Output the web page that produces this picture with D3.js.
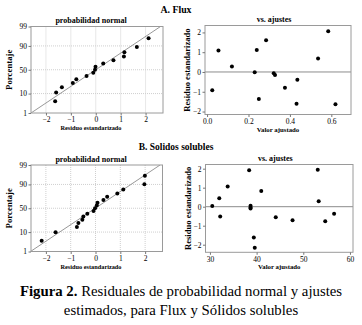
<!DOCTYPE html>
<html>
<head>
<meta charset="utf-8">
<script src="https://cdn.jsdelivr.net/npm/d3@7/dist/d3.min.js"></script>
<style>
  body { margin: 0; background: #fff; }
  svg { display: block; font-family: "Liberation Serif", "Times New Roman", serif; }
  .axis text { font-family: "Liberation Serif", "Times New Roman", serif; font-size: 7.5px; fill: #000; }
  .axis line { stroke: #777; }
  .axis path { display: none; }
</style>
</head>
<body>
<svg id="chart" width="362" height="325"></svg>
<script>
// --- A. Flux: residuo vs valor ajustado
const fluxFitted = [0.025, 0.055, 0.12, 0.23, 0.24, 0.25, 0.285, 0.322, 0.328, 0.376, 0.432, 0.436, 0.536, 0.585, 0.62];
const fluxResid  = [-0.93, 1.08, 0.28, -0.02, 1.11, -1.37, 1.61, -0.06, -0.15, -0.80, -1.61, -0.39, 0.68, 2.06, -1.63];
// --- A. Flux: probabilidad normal (residuo ordenado, porcentaje)
const fluxNormRes = [-1.63, -1.59, -1.36, -0.92, -0.78, -0.37, -0.10, -0.03, -0.01, 0.30, 0.71, 1.13, 1.15, 1.65, 2.12];
const fluxNormPct = [4.5, 11, 17.5, 24, 30.5, 37, 43.5, 50, 56.5, 63, 69.5, 76, 82.5, 89, 95.5];
const fluxLine = [[-2.6, 1], [2.6, 99]];

// --- B. Solidos solubles: residuo vs valor ajustado
const solFitted = [30.5, 32.0, 32.2, 33.8, 38.4, 38.7, 38.7, 38.7, 39.4, 39.6, 41.0, 44.1, 47.7, 53.1, 53.3, 54.7, 56.6];
const solResid  = [0.04, 0.44, -0.52, 1.06, 1.92, 0.05, -0.04, -0.10, -1.62, -2.16, 0.82, -0.56, -0.71, 1.95, 0.28, -0.76, -0.37];
// --- B. Solidos solubles: probabilidad normal
const solNormRes = [-2.17, -1.61, -0.75, -0.69, -0.53, -0.49, -0.33, -0.08, -0.02, 0.05, 0.08, 0.32, 0.47, 0.88, 1.12, 1.97, 1.99];
const solNormPct = [4.0, 9.8, 15.5, 21.3, 27.0, 32.8, 38.5, 44.3, 50, 55.7, 61.5, 67.2, 73.0, 78.7, 84.5, 90.2, 96.0];
const solLine = [[-2.62, 1], [2.6, 99]];

// ticks
const pctTicks = [1, 10, 50, 90, 99];
const resTicks = [-2, -1, 0, 1, 2];
const fluxFitTicks = [0.0, 0.2, 0.4, 0.6];
const solFitTicks = [30, 40, 50, 60];

// inverse normal cdf (Acklam) for the probability axis
function probit(p) {
  const a = [-39.69683028665376, 220.9460984245205, -275.9285104469687, 138.3577518672690, -30.66479806614716, 2.506628277459239];
  const b = [-54.47609879822406, 161.5858368580409, -155.6989798598866, 66.80131188771972, -13.28068155288572];
  const c = [-0.007784894002430293, -0.3223964580411365, -2.400758277161838, -2.549732539343734, 4.374664141464968, 2.938163982698783];
  const d = [0.007784695709041462, 0.3224671290700398, 2.445134137142996, 3.754408661907416];
  const pl = 0.02425;
  let q, r;
  if (p < pl) {
    q = Math.sqrt(-2 * Math.log(p));
    return (((((c[0]*q+c[1])*q+c[2])*q+c[3])*q+c[4])*q+c[5]) / ((((d[0]*q+d[1])*q+d[2])*q+d[3])*q+1);
  }
  if (p > 1 - pl) {
    q = Math.sqrt(-2 * Math.log(1 - p));
    return -(((((c[0]*q+c[1])*q+c[2])*q+c[3])*q+c[4])*q+c[5]) / ((((d[0]*q+d[1])*q+d[2])*q+d[3])*q+1);
  }
  q = p - 0.5; r = q * q;
  return (((((a[0]*r+a[1])*r+a[2])*r+a[3])*r+a[4])*r+a[5])*q / (((((b[0]*r+b[1])*r+b[2])*r+b[3])*r+b[4])*r+1);
}

const svg = d3.select("#chart");

function drawNormal(box, res, pct, line, titleX) {
  const x = d3.scaleLinear().domain([-2.6, 2.7]).range([box.x0, box.x1]);
  const zy = d3.scaleLinear().domain([probit(0.01), probit(0.99)]).range([box.y1, box.y0]);
  const y = p => zy(probit(p / 100));
  const g = svg.append("g");

  // grid
  g.selectAll(".vg").data(resTicks).join("line")
    .attr("x1", d => x(d)).attr("x2", d => x(d))
    .attr("y1", box.y0).attr("y2", box.y1)
    .attr("stroke", "#cfcfcf").attr("stroke-dasharray", "1,1");
  g.selectAll(".hg").data(pctTicks.slice(1, -1)).join("line")
    .attr("x1", box.x0).attr("x2", box.x1)
    .attr("y1", d => y(d)).attr("y2", d => y(d))
    .attr("stroke", "#cfcfcf").attr("stroke-dasharray", "1,1");

  // fitted line, clipped to the box
  const clipId = "clip" + Math.round(box.y0);
  svg.append("clipPath").attr("id", clipId).append("rect")
    .attr("x", box.x0).attr("y", box.y0).attr("width", box.x1 - box.x0).attr("height", box.y1 - box.y0);
  g.append("line")
    .attr("clip-path", `url(#${clipId})`)
    .attr("x1", x(line[0][0])).attr("y1", y(line[0][1]))
    .attr("x2", x(line[1][0])).attr("y2", y(line[1][1]))
    .attr("stroke", "#8c8c8c").attr("stroke-width", 0.9);

  g.append("rect")
    .attr("x", box.x0).attr("y", box.y0).attr("width", box.x1 - box.x0).attr("height", box.y1 - box.y0)
    .attr("fill", "none").attr("stroke", "#9a9a9a");

  g.selectAll("circle").data(res).join("circle")
    .attr("cx", d => x(d)).attr("cy", (d, i) => y(pct[i]))
    .attr("r", 2).attr("fill", "#000");

  g.append("g").attr("class", "axis").attr("transform", `translate(0,${box.y1})`)
    .call(d3.axisBottom(x).tickValues(resTicks).tickFormat(d3.format("d")).tickSize(2.5).tickPadding(1.5));
  g.append("g").attr("class", "axis").attr("transform", `translate(${box.x0},0)`)
    .call(d3.axisLeft(d3.scaleLinear().domain(zy.domain()).range(zy.range()))
      .tickValues(pctTicks.map(p => probit(p / 100)))
      .tickFormat((d, i) => pctTicks[i]).tickSize(2.5).tickPadding(1.5));

  g.append("text").attr("x", titleX).attr("y", box.y0 - 3.5).attr("text-anchor", "middle")
    .attr("font-weight", "bold").attr("font-size", 8).text("probabilidad normal");
  g.append("text").attr("x", titleX).attr("y", box.y1 + 17).attr("text-anchor", "middle")
    .attr("font-weight", "bold").attr("font-size", 6.3).text("Residuo estandarizado");
  g.append("text").attr("transform", `translate(12,${(box.y0 + box.y1) / 2}) rotate(-90)`)
    .attr("text-anchor", "middle").attr("font-weight", "bold").attr("font-size", 8.8).text("Porcentaje");
}

function drawFits(box, fitted, resid, xDom, yDom, xTicks, fmt) {
  const x = d3.scaleLinear().domain(xDom).range([box.x0, box.x1]);
  const y = d3.scaleLinear().domain(yDom).range([box.y1, box.y0]);
  const g = svg.append("g");

  g.append("line").attr("x1", box.x0).attr("x2", box.x1)
    .attr("y1", y(0)).attr("y2", y(0)).attr("stroke", "#8c8c8c");
  g.append("rect")
    .attr("x", box.x0).attr("y", box.y0).attr("width", box.x1 - box.x0).attr("height", box.y1 - box.y0)
    .attr("fill", "none").attr("stroke", "#9a9a9a");

  g.selectAll("circle").data(fitted).join("circle")
    .attr("cx", d => x(d)).attr("cy", (d, i) => y(resid[i]))
    .attr("r", 2).attr("fill", "#000");

  g.append("g").attr("class", "axis").attr("transform", `translate(0,${box.y1})`)
    .call(d3.axisBottom(x).tickValues(xTicks).tickFormat(fmt).tickSize(2.5).tickPadding(1.5));
  g.append("g").attr("class", "axis").attr("transform", `translate(${box.x0},0)`)
    .call(d3.axisLeft(y).tickValues(resTicks).tickFormat(d3.format("d")).tickSize(2.5).tickPadding(1.5));

  g.append("text").attr("x", (box.x0 + box.x1) / 2 - 4).attr("y", box.y0 - 3.5).attr("text-anchor", "middle")
    .attr("font-weight", "bold").attr("font-size", 8).text("vs. ajustes");
  g.append("text").attr("x", (box.x0 + box.x1) / 2).attr("y", box.y1 + 17).attr("text-anchor", "middle")
    .attr("font-weight", "bold").attr("font-size", 6.8).text("Valor ajustado");
  g.append("text").attr("transform", `translate(${box.x0 - 15},${(box.y0 + box.y1) / 2}) rotate(-90)`)
    .attr("text-anchor", "middle").attr("font-weight", "bold").attr("font-size", 8.6).text("Residuo estandarizado");
}

// section titles
svg.append("text").attr("x", 176).attr("y", 13).attr("text-anchor", "middle")
  .attr("font-weight", "bold").attr("font-size", 9.8).text("A. Flux");
svg.append("text").attr("x", 176).attr("y", 150).attr("text-anchor", "middle")
  .attr("font-weight", "bold").attr("font-size", 9.5).text("B. Solidos solubles");

drawNormal({x0: 31, x1: 163, y0: 26.5, y1: 113}, fluxNormRes, fluxNormPct, fluxLine, 91);
drawFits({x0: 205, x1: 351, y0: 25.5, y1: 114.5}, fluxFitted, fluxResid,
  [-0.01, 0.695], [-2.15, 2.35], fluxFitTicks, d3.format(".1f"));

drawNormal({x0: 31, x1: 162.5, y0: 165, y1: 251.5}, solNormRes, solNormPct, solLine, 91);
drawFits({x0: 205.5, x1: 353, y0: 164.5, y1: 252.3}, solFitted, solResid,
  [29.05, 60.65], [-2.4, 2.22], solFitTicks, d3.format("d"));

// caption
const cap = svg.append("text").attr("x", 181).attr("y", 296).attr("text-anchor", "middle").attr("font-size", 14.8);
cap.append("tspan").attr("font-weight", "bold").text("Figura 2.");
cap.append("tspan").text(" Residuales de probabilidad normal y ajustes");
svg.append("text").attr("x", 181).attr("y", 315).attr("text-anchor", "middle").attr("font-size", 14.8)
  .text("estimados, para Flux y Sólidos solubles");
</script>
</body>
</html>
